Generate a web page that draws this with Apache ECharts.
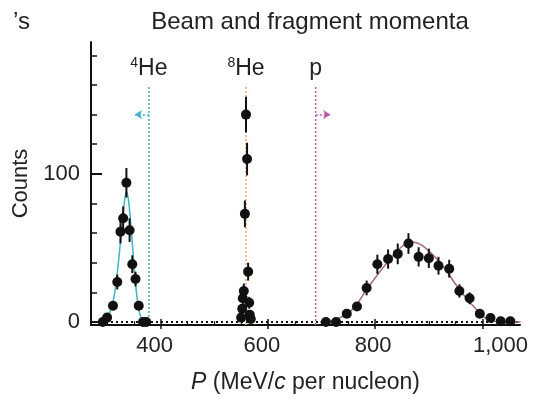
<!DOCTYPE html>
<html><head><meta charset="utf-8">
<script src="https://cdn.jsdelivr.net/npm/echarts@6/dist/echarts.min.js"></script>
<style>html,body{margin:0;padding:0;background:#fff}#c{width:543px;height:400px}</style>
</head><body><div id="c"></div>
<script>
// ---- tick labels ----
const xTicks = [400, 600, 800, 1000];
const xMinorTicks = [300, 350, 450, 500, 550, 650, 700, 750, 850, 900, 950, 1050];
const yTicks = [0, 100];
const yMinorTicks = [20, 40, 60, 80, 120, 140, 160, 180];

// ---- 4He ----
const he4X   = [292, 300, 311, 319, 325, 330, 336, 342, 347, 353, 359, 367, 373];
const he4Y   = [0, 3, 11, 27, 61, 70, 94, 62, 39, 29, 11, 0, 0];
const he4Err = [1, 2, 3, 5, 8, 8, 10, 8, 6, 5, 3, 1, 1];
const he4FitX = [286, 300, 310, 318, 326, 332, 336, 340, 346, 352, 358, 364, 370, 376];
const he4FitY = [0, 3, 12, 30, 58, 80, 88, 82, 58, 30, 11, 2, 0, 0];

// ---- 8He ----
const he8X   = [550, 552, 553, 555, 557, 559, 561, 563, 565, 566, 568];
const he8Y   = [3, 9, 16, 21, 73, 140, 110, 34, 13, 5, 2];
const he8Err = [2, 3, 4, 5, 9, 12, 11, 6, 4, 2, 2];

// ---- proton ----
const pX   = [708, 727, 747, 766, 784, 804, 824, 842, 862, 881, 900, 918, 938, 957, 976, 995, 1015, 1034, 1052];
const pY   = [0, 0, 5.6, 10.5, 23, 39, 42.5, 46, 53, 44, 43, 38, 36, 21, 16, 5.6, 2.7, 0.5, 0.5];
const pErr = [1, 1, 2.5, 3, 5, 6.5, 6.5, 7, 7, 6.5, 6.5, 6, 6, 4.5, 4, 2.5, 1.5, 1, 1];
const pFitX = [697, 728, 759, 784, 822, 850, 868, 888, 921, 959, 990, 1009, 1040, 1071];
const pFitY = [0, 2, 9, 22, 40, 51, 54, 51.5, 40, 21, 8, 2, 0, 0];

// ---- markers ----
const cutLines = [378, 559, 689];
const cutLabels = ['4', '8', ''];
const cutNames = ['He', 'He', 'p'];
const lineTop = 159;
const arrowY = 140;
const he4Arrow = [378, 352];
const pArrow = [689, 716];

const X_MIN = 270, X_MAX = 1070, Y_MIN = -2, Y_MAX = 189;
const FONT = '"Liberation Sans", Arial, Helvetica, sans-serif';
const CYAN = '#3fb4c4', ORANGE = '#f2a865', MAG = '#b55aa6', PFIT = '#a66889';

const zip = (a, b) => a.map((v, i) => [v, b[i]]);

function errSeries(xs, ys, es) {
  return {
    type: 'custom', xAxisIndex: 0, yAxisIndex: 0, z: 5,
    data: xs.map((x, i) => [x, ys[i], es[i]]),
    renderItem: (params, api) => {
      const x = api.value(0), y = api.value(1), e = api.value(2);
      const p1 = api.coord([x, y - e]);
      const p2 = api.coord([x, y + e]);
      return { type: 'line', shape: { x1: p1[0], y1: p1[1], x2: p2[0], y2: p2[1] },
               style: { stroke: '#111', lineWidth: 2 } };
    }
  };
}
function pts(xs, ys) {
  return { type: 'scatter', symbol: 'circle', symbolSize: 10, z: 6,
    itemStyle: { color: '#111', opacity: 1 }, data: zip(xs, ys) };
}
const cutColors = [CYAN, ORANGE, MAG];
const vSeries = cutLines.map((x, i) => ({
  type: 'line', symbol: 'none', z: 3, silent: true,
  lineStyle: { color: cutColors[i], width: 1.5, type: [2, 2] },
  data: [[x, Y_MIN], [x, lineTop]]
}));
const labelSeries = {
  type: 'scatter', symbolSize: 1, silent: true, z: 7,
  itemStyle: { color: 'rgba(0,0,0,0)' },
  label: {
    show: true, position: 'top', distance: 4, opacity: 1,
    formatter: p => cutLabels[p.dataIndex] ? '{s|' + cutLabels[p.dataIndex] + '}{n|' + cutNames[p.dataIndex] + '}' : '{n|' + cutNames[p.dataIndex] + '}',
    rich: {
      s: { fontSize: 14, fontFamily: FONT, color: '#222', verticalAlign: 'top', lineHeight: 14, padding: [0, 0, 10, 0] },
      n: { fontSize: 23, fontFamily: FONT, color: '#222', lineHeight: 26 }
    }
  },
  data: cutLines.map(x => [x, lineTop])
};

const tickRich = {
  a: { fontSize: 22, fontFamily: FONT, color: '#222', padding: [0, 12, 0, 0] },
  b: { fontSize: 22, fontFamily: FONT, color: '#222', padding: [0, 4, 0, 0] },
  r: { fontSize: 22, fontFamily: FONT, color: '#222', padding: [0, 0, 0, 36] }
};

const option = {
  animation: false,
  backgroundColor: '#fff',
  title: [
    { text: 'Beam and fragment momenta', left: 305, top: 5, textAlign: 'center',
      textStyle: { fontSize: 24, fontWeight: 'normal', fontFamily: FONT, color: '#222' } },
    { text: '’s', left: 8, top: 5,
      textStyle: { fontSize: 24, fontWeight: 'normal', fontFamily: FONT, color: '#222' } }
  ],
  grid: { left: 91, right: 23, top: 42, bottom: 75, containLabel: false },
  xAxis: [
    { type: 'value', min: X_MIN, max: X_MAX, position: 'bottom',
      name: '{i|P} (MeV/{i|c} per nucleon)', nameLocation: 'middle', nameGap: 46,
      nameTextStyle: { fontSize: 23, fontFamily: FONT, color: '#222',
        rich: { i: { fontStyle: 'italic', fontSize: 23, fontFamily: FONT, color: '#222' } } },
      axisLine: { onZero: false, lineStyle: { color: '#111', width: 2 } },
      axisTick: { inside: true, length: 6, customValues: xTicks, lineStyle: { color: '#111', width: 1.5 } },
      axisLabel: { customValues: xTicks, fontSize: 22, fontFamily: FONT, color: '#222', margin: 10,
        formatter: v => v === 1000 ? '{r|1,000}' : (v === 800 ? '{b|800}' : '{a|' + v + '}'),
        rich: tickRich },
      splitLine: { show: false } },
    { type: 'value', min: X_MIN, max: X_MAX, position: 'bottom',
      axisLine: { show: false, onZero: false },
      axisTick: { inside: true, length: 4, customValues: xMinorTicks, lineStyle: { color: '#111', width: 1.2 } },
      axisLabel: { show: false }, splitLine: { show: false } },
    { type: 'value', min: X_MIN, max: X_MAX, position: 'bottom',
      axisLine: { show: false, onZero: false },
      axisTick: { inside: false, length: 4, customValues: xTicks, lineStyle: { color: '#111', width: 1.5 } },
      axisLabel: { show: false }, splitLine: { show: false } }
  ],
  yAxis: [
    { type: 'value', min: Y_MIN, max: Y_MAX, position: 'left',
      name: 'Counts', nameLocation: 'middle', nameGap: 58,
      nameTextStyle: { fontSize: 22, fontFamily: FONT, color: '#222' },
      axisLine: { onZero: false, lineStyle: { color: '#111', width: 2 } },
      axisTick: { inside: true, length: 11, customValues: yTicks, lineStyle: { color: '#111', width: 2 } },
      axisLabel: { customValues: yTicks, fontSize: 22, fontFamily: FONT, color: '#222', margin: 11 },
      splitLine: { show: false } },
    { type: 'value', min: Y_MIN, max: Y_MAX, position: 'left',
      axisLine: { show: false, onZero: false },
      axisTick: { inside: true, length: 6, customValues: yMinorTicks, lineStyle: { color: '#111', width: 1.5 } },
      axisLabel: { show: false }, splitLine: { show: false } }
  ],
  series: [
    { type: 'line', symbol: 'none', z: 2, silent: true,
      lineStyle: { color: '#111', width: 2, type: [2, 3] },
      data: [[X_MIN, 0], [X_MAX, 0]] },
    ...vSeries,
    labelSeries,
    { type: 'line', symbol: 'none', data: [], silent: true,
      markLine: { silent: true, symbol: ['none', 'arrow'], symbolSize: 7, label: { show: false },
        lineStyle: { color: CYAN, width: 1.5, type: [2, 2] },
        data: [[{ coord: [he4Arrow[0], arrowY] }, { coord: [he4Arrow[1], arrowY] }]] } },
    { type: 'line', symbol: 'none', data: [], silent: true,
      markLine: { silent: true, symbol: ['none', 'arrow'], symbolSize: 7, label: { show: false },
        lineStyle: { color: MAG, width: 1.5, type: [2, 2] },
        data: [[{ coord: [pArrow[0], arrowY] }, { coord: [pArrow[1], arrowY] }]] } },
    { type: 'line', symbol: 'none', smooth: 0.4, z: 4,
      lineStyle: { color: CYAN, width: 1.5 }, data: zip(he4FitX, he4FitY) },
    { type: 'line', symbol: 'none', smooth: 0.4, z: 4,
      lineStyle: { color: PFIT, width: 1.5 }, data: zip(pFitX, pFitY) },
    errSeries(he4X, he4Y, he4Err), errSeries(he8X, he8Y, he8Err), errSeries(pX, pY, pErr),
    pts(he4X, he4Y), pts(he8X, he8Y), pts(pX, pY)
  ]
};
const chart = echarts.init(document.getElementById('c'), null, { renderer: 'canvas' });
chart.setOption(option);
</script></body></html>
